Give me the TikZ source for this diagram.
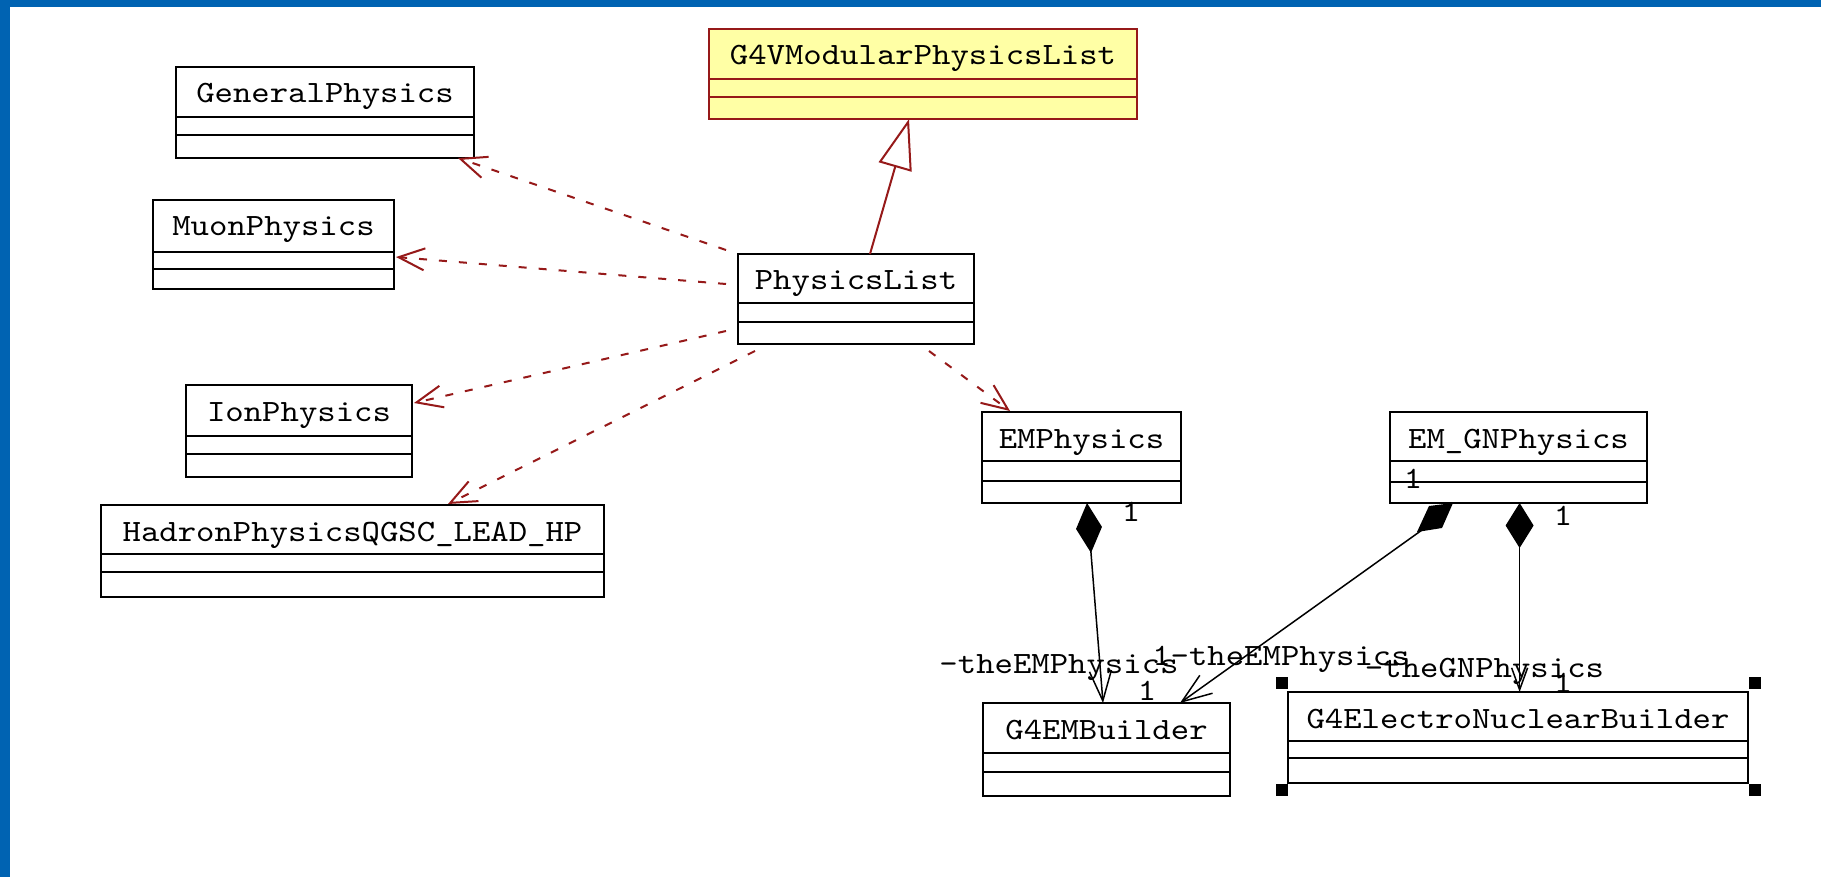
\documentclass[tikz,border=0pt]{standalone}
\usepackage{fontspec}
\newfontfamily\umlfont[FakeStretch=1.13]{lmmono10-regular.otf}
\usetikzlibrary{arrows.meta}
\definecolor{dred}{RGB}{150,25,25}
\definecolor{umlyellow}{RGB}{255,255,165}
\definecolor{frameblue}{RGB}{0,99,178}
% #1 style, #2 name, #3 x, #4 y, #5 width, #6 height, #7 divider1, #8 divider2, #9 text
\newcommand{\umlcls}[9]{%
  \node[clsbox, #1, minimum width=#5pt, minimum height=#6pt] (#2) at (#3,#4) {};
  \draw[divline, #1] ([yshift=-#7pt]#2.north west) -- ([yshift=-#7pt]#2.north east);
  \draw[divline, #1] ([yshift=-#8pt]#2.north west) -- ([yshift=-#8pt]#2.north east);
  \node[ctext] (#2-t) at ([yshift=-36pt]#2.north) {#9};
}
\begin{document}
\begin{tikzpicture}[x=1pt,y=-1pt,
  clsbox/.style={draw=black, fill=white, line width=2pt, inner sep=0pt, outer sep=0pt, anchor=north west},
  divline/.style={draw=black, line width=2pt},
  ctext/.style={font={\fontsize{31}{36}\selectfont\umlfont}, anchor=base, inner sep=0pt},
  lbl/.style={font={\fontsize{31}{36}\selectfont\umlfont}, anchor=base, inner sep=0pt},
  dep/.style={draw=dred, line width=2pt, dash pattern=on 8pt off 12pt,
    -{Straight Barb[length=26pt,width=22pt]}},
  inh/.style={draw=dred, line width=2pt, -{Triangle[length=50pt,width=34pt,fill=white]}},
  comp/.style={draw=black, line width=1.5pt},
  handle/.style={fill=black, inner sep=0pt, minimum size=12pt}
]
\useasboundingbox (0,0) rectangle (1821,877);
\fill[white] (0,0) rectangle (1821,877);
\fill[frameblue] (0,0) rectangle (1821,7);
\fill[frameblue] (0,0) rectangle (10,877);

% classes
\umlcls{}{gp}{176}{67}{298}{91}{50}{68}{GeneralPhysics}
\umlcls{}{mp}{153}{200}{241}{89}{52}{69}{MuonPhysics}
\umlcls{}{ion}{186}{385}{226}{92}{51}{69}{IonPhysics}
\umlcls{}{hp}{101}{505}{503}{92}{49}{67}{HadronPhysicsQGSC\_LEAD\_HP}
\umlcls{draw=dred, fill=umlyellow}{g4v}{709}{29}{428}{90}{50}{68}{G4VModularPhysicsList}
\umlcls{}{pl}{738}{254}{236}{90}{49}{68}{PhysicsList}
\umlcls{}{em}{982}{412}{199}{91}{49}{69}{EMPhysics}
\umlcls{}{emgn}{1390}{412}{257}{91}{49}{70}{EM\_GNPhysics}
\umlcls{}{emb}{983}{703}{247}{93}{50}{69}{G4EMBuilder}
\umlcls{}{enb}{1288}{692}{460}{91}{49}{66}{G4ElectroNuclearBuilder}

% selection handles
\node[handle] (h1) at ([shift={(-6,-9)}]enb.north west) {};
\node[handle] (h2) at ([shift={(7,-9)}]enb.north east) {};
\node[handle] (h3) at ([shift={(-6,7)}]enb.south west) {};
\node[handle] (h4) at ([shift={(7,7)}]enb.south east) {};

% inheritance
\draw[inh] ([shift={(132,0)}]pl.north west) -- ([shift={(200,0)}]g4v.south west);

% dependencies
\draw[dep] ([shift={(-12,-4)}]pl.north west) -- ([shift={(-16,0)}]gp.south east);
\draw[dep] ([shift={(-12,30)}]pl.north west) -- ([shift={(2,57)}]mp.north east);
\draw[dep] ([shift={(-12,77)}]pl.north west) -- ([shift={(2,18)}]ion.north east);
\draw[dep] ([shift={(17,97)}]pl.north west) -- ([shift={(347,-1)}]hp.north west);
\draw[dep] ([shift={(191,97)}]pl.north west) -- ([shift={(28,-1)}]em.north west);

% compositions
\draw[comp, {Diamond[length=50pt,width=26pt]}-{Straight Barb[length=30pt,width=22pt]}]
  ([shift={(105,0)}]em.south west) -- ([shift={(120,0)}]emb.north west);
\draw[comp, {Diamond[length=45pt,width=28pt]}-{Straight Barb[length=22pt,width=16pt]}]
  ([shift={(129.6,0)}]emgn.south west) -- ([shift={(231.6,0)}]enb.north west);
\fill ([shift={(39,3)}]emgn.south west) -- ([shift={(63,0)}]emgn.south west)
  -- ([shift={(52,25)}]emgn.south west) -- ([shift={(27,29)}]emgn.south west) -- cycle;
\draw[comp, -{Straight Barb[length=30pt,width=22pt]}]
  ([shift={(32,27)}]emgn.south west) -- ([shift={(197,0)}]emb.north west);

% role and multiplicity labels
\node[lbl] (l1) at (1131,521) {1};
\node[lbl] (l2) at (1059,673) {-theEMPhysics};
\node[lbl] (l3) at (1147,700) {1};
\node[lbl] (l4) at (1281,665) {1-theEMPhysics};
\node[lbl] (l5) at (1484.5,677) {-theGNPhysics};
\node[lbl] (l6) at (1563,692) {1};
\node[lbl] (l7) at (1563,525) {1};
\node[lbl] (l8) at (1413,488) {1};
\end{tikzpicture}
\end{document}
